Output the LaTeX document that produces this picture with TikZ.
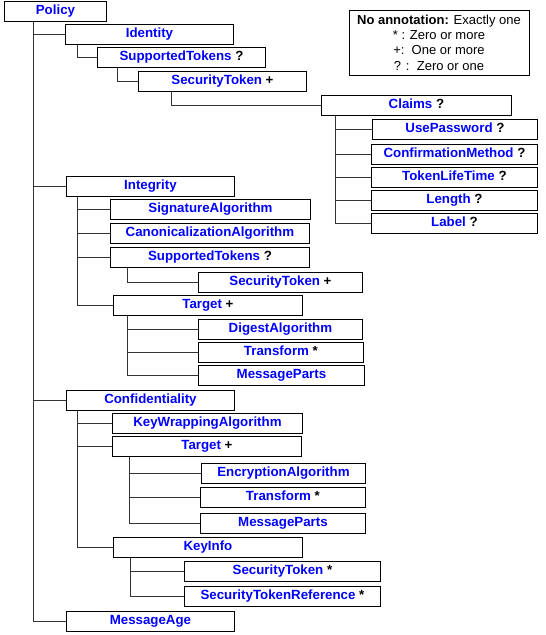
\documentclass[tikz,border=0pt]{standalone}
\usepackage{fontspec}
\setmainfont{Liberation Sans}
\usepackage{xcolor}
\tikzset{
    elem/.style = {rectangle, draw=black, line width=0.9pt, fill=white, minimum height=20pt, inner sep=0pt, text height=9.5pt, text depth=4pt, text centered, text=blue, font=\fontsize{13.3}{15}\selectfont\bfseries, anchor=north west},
    legendbox/.style = {rectangle, draw=black, line width=0.9pt, minimum width=180pt, minimum height=65pt, inner sep=0pt, align=center, font=\fontsize{13}{15.3}\selectfont},
    link/.style = {draw=black!80, line width=0.9pt}
}
\newcommand{\ann}[1]{\textcolor{black}{#1}}

\begin{document}
\begin{tikzpicture}[x=1pt, y=-1pt]
\useasboundingbox (0,0) rectangle (546,635);

\node (legend) [legendbox, text depth=0pt] at (439,42.5) {\textbf{No annotation:} Exactly one\\ * : Zero or more\\ +:\ \ One or more\\ ? :\ \ Zero or one};

\node (policy) [elem, minimum width=102pt] at (4,1) {Policy};

\node (identity) [elem, minimum width=168pt] at (65,24) {Identity};
\node (suptokA) [elem, minimum width=168pt] at (97,47) {SupportedTokens \ann{?}};
\node (sectokA) [elem, minimum width=168pt] at (138,71) {SecurityToken \ann{+}};
\node (claims) [elem, minimum width=190pt] at (321,95) {Claims \ann{?}};
\node (usepw) [elem, minimum width=165pt] at (372,119) {UsePassword \ann{?}};
\node (confmeth) [elem, minimum width=166pt] at (371,144) {ConfirmationMethod \ann{?}};
\node (toklife) [elem, minimum width=166pt] at (371,167) {TokenLifeTime \ann{?}};
\node (length) [elem, minimum width=166pt] at (371,190) {Length \ann{?}};
\node (label) [elem, minimum width=166pt] at (371,213) {Label \ann{?}};

\node (integrity) [elem, minimum width=168pt] at (66,176) {Integrity};
\node (sigalg) [elem, minimum width=200pt] at (110,199) {SignatureAlgorithm};
\node (canonalg) [elem, minimum width=199pt] at (110,223) {CanonicalizationAlgorithm};
\node (suptokB) [elem, minimum width=199pt] at (110,247) {SupportedTokens \ann{?}};
\node (sectokB) [elem, minimum width=164pt] at (198,272) {SecurityToken \ann{+}};
\node (targetA) [elem, minimum width=189pt] at (113,295) {Target \ann{+}};
\node (digalg) [elem, minimum width=164pt] at (198,319) {DigestAlgorithm};
\node (transfA) [elem, minimum width=165pt] at (198,342) {Transform \ann{*}};
\node (msgpartsA) [elem, minimum width=166pt] at (198,365) {MessageParts};

\node (conf) [elem, minimum width=168pt] at (66,390) {Confidentiality};
\node (keywrap) [elem, minimum width=190pt] at (112,413) {KeyWrappingAlgorithm};
\node (targetB) [elem, minimum width=189pt] at (112,436) {Target \ann{+}};
\node (encalg) [elem, minimum width=164pt] at (201,463) {EncryptionAlgorithm};
\node (transfB) [elem, minimum width=165pt] at (200,487) {Transform \ann{*}};
\node (msgpartsB) [elem, minimum width=165pt] at (200,513) {MessageParts};
\node (keyinfo) [elem, minimum width=189pt] at (113,537) {KeyInfo};
\node (sectokC) [elem, minimum width=196pt] at (184,561) {SecurityToken \ann{*}};
\node (sectokref) [elem, minimum width=196pt] at (184,586) {SecurityTokenReference \ann{*}};

\node (msgage) [elem, minimum width=168pt] at (66,611) {MessageAge};

\draw [link] ([xshift=29pt]policy.south west) |- (identity.west);
\draw [link] ([xshift=29pt]policy.south west) |- (integrity.west);
\draw [link] ([xshift=29pt]policy.south west) |- (conf.west);
\draw [link] ([xshift=29pt]policy.south west) |- (msgage.west);

\draw [link] ([xshift=12pt]identity.south west) |- (suptokA.west);
\draw [link] ([xshift=20pt]suptokA.south west) |- (sectokA.west);
\draw [link] ([xshift=33pt]sectokA.south west) |- (claims.west);
\draw [link] ([xshift=14pt]claims.south west) |- (usepw.west);
\draw [link] ([xshift=14pt]claims.south west) |- (confmeth.west);
\draw [link] ([xshift=14pt]claims.south west) |- (toklife.west);
\draw [link] ([xshift=14pt]claims.south west) |- (length.west);
\draw [link] ([xshift=14pt]claims.south west) |- (label.west);

\draw [link] ([xshift=11pt]integrity.south west) |- (sigalg.west);
\draw [link] ([xshift=11pt]integrity.south west) |- (canonalg.west);
\draw [link] ([xshift=11pt]integrity.south west) |- (suptokB.west);
\draw [link] ([xshift=11pt]integrity.south west) |- (targetA.west);
\draw [link] ([xshift=17pt]suptokB.south west) |- (sectokB.west);
\draw [link] ([xshift=14pt]targetA.south west) |- (digalg.west);
\draw [link] ([xshift=14pt]targetA.south west) |- (transfA.west);
\draw [link] ([xshift=14pt]targetA.south west) |- (msgpartsA.west);

\draw [link] ([xshift=11pt]conf.south west) |- (keywrap.west);
\draw [link] ([xshift=11pt]conf.south west) |- (targetB.west);
\draw [link] ([xshift=11pt]conf.south west) |- (keyinfo.west);
\draw [link] ([xshift=17pt]targetB.south west) |- (encalg.west);
\draw [link] ([xshift=17pt]targetB.south west) |- (transfB.west);
\draw [link] ([xshift=17pt]targetB.south west) |- (msgpartsB.west);
\draw [link] ([xshift=17pt]keyinfo.south west) |- (sectokC.west);
\draw [link] ([xshift=17pt]keyinfo.south west) |- (sectokref.west);
\end{tikzpicture}
\end{document}
